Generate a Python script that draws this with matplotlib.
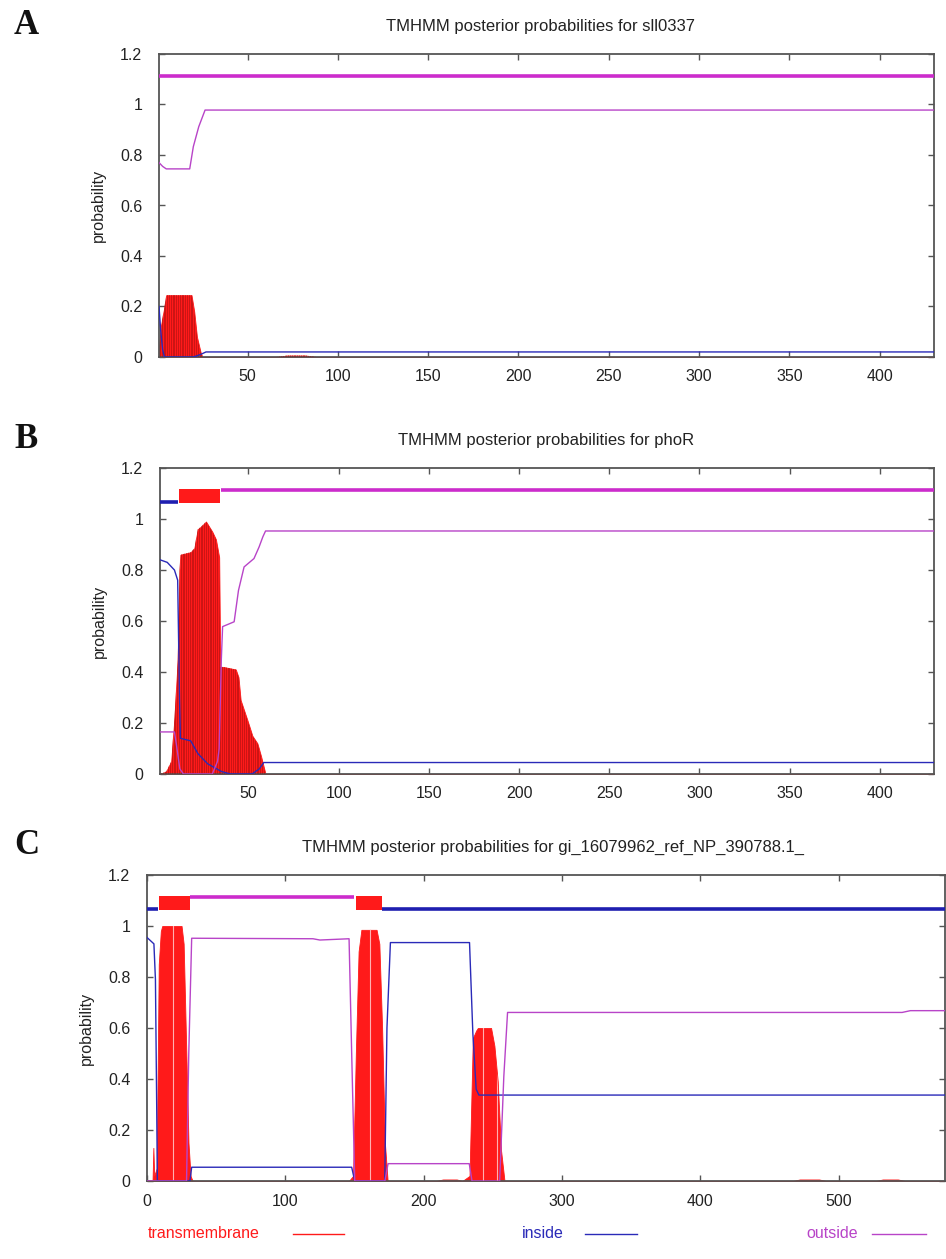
import numpy as np
import matplotlib
matplotlib.use("Agg")
import matplotlib.pyplot as plt

plt.rcParams['font.family'] = ['Liberation Sans', 'DejaVu Sans']

# ---------------- data ----------------
# Panel A: sll0337
A_title = "TMHMM posterior probabilities for sll0337"
A_xlim = (1, 430)
A_xticks = [50, 100, 150, 200, 250, 300, 350, 400]
A_tm_x = [1, 2, 4, 5, 19, 20.5, 22, 24, 25, 66, 72, 82, 88, 430]
A_tm_y = [0.04, 0.12, 0.2, 0.245, 0.245, 0.18, 0.08, 0.02, 0, 0, 0.006, 0.006, 0, 0]
A_in_x = [1, 2, 3, 4, 20, 24, 27, 430]
A_in_y = [0.2, 0.1, 0.03, 0.0, 0.0, 0.01, 0.02, 0.02]
A_out_x = [1, 3, 5, 18, 20, 23, 26.5, 430]
A_out_y = [0.77, 0.755, 0.745, 0.745, 0.833, 0.912, 0.978, 0.978]
A_thick_in = []
A_thick_tm = []
A_thick_out = [(1, 430)]

# Panel B: phoR
B_title = "TMHMM posterior probabilities for phoR"
B_xlim = (1, 430)
B_xticks = [50, 100, 150, 200, 250, 300, 350, 400]
B_tm_x = [1, 4.4, 7.2, 9, 10.8, 11.8, 12.3, 18, 20, 21.9, 23.7, 26.5, 30, 32, 33.8, 34.4,
          36, 43, 44.5, 45.7, 49.5, 52.2, 55, 57, 59.5, 430]
B_tm_y = [0, 0.01, 0.05, 0.22, 0.45, 0.8, 0.86, 0.87, 0.885, 0.96, 0.97, 0.99, 0.95, 0.92, 0.85, 0.42,
          0.42, 0.41, 0.38, 0.29, 0.21, 0.15, 0.12, 0.07, 0, 0]
B_in_x = [1, 5, 9, 10.8, 11.8, 12.3, 18, 22, 27.4, 35, 40, 52, 56, 58.5, 430]
B_in_y = [0.84, 0.83, 0.80, 0.76, 0.3, 0.14, 0.13, 0.08, 0.04, 0.01, 0.0, 0.0, 0.02, 0.045, 0.045]
B_out_x = [1, 9, 10, 12, 14, 30, 32.9, 33.8, 35, 35.7, 42.1, 44.5, 47.6, 53.1, 55.9, 58, 59.5, 430]
B_out_y = [0.165, 0.165, 0.12, 0.02, 0.0, 0.0, 0.05, 0.1, 0.45, 0.578, 0.597, 0.72, 0.812, 0.845, 0.89, 0.93, 0.953, 0.953]
B_thick_in = [(1, 11)]
B_thick_tm = [(11.8, 34.2)]
B_thick_out = [(35, 430)]

# Panel C: gi_16079962_ref_NP_390788.1_
C_title = "TMHMM posterior probabilities for gi_16079962_ref_NP_390788.1_"
C_xlim = (0, 577)
C_xticks = [0, 100, 200, 300, 400, 500]
C_tm_x = [0, 4, 4.6, 5.2, 7, 8.5, 10, 11, 25, 26.5, 28, 30, 31.5, 33,
          146, 149, 151, 153, 155, 166, 168, 170, 172, 174,
          209, 214, 224, 228, 233.2, 235.6, 238, 239.2, 248.8, 251.2, 253.6, 256, 258.5,
          467, 472, 486, 491, 527, 532, 543, 548, 577]
C_tm_y = [0, 0, 0.13, 0.02, 0.05, 0.85, 0.98, 1.0, 1.0, 0.93, 0.6, 0.15, 0.02, 0,
          0, 0.02, 0.5, 0.9, 0.985, 0.985, 0.93, 0.6, 0.15, 0,
          0, 0.006, 0.006, 0, 0.02, 0.56, 0.59, 0.6, 0.6, 0.53, 0.39, 0.12, 0,
          0, 0.006, 0.006, 0, 0, 0.006, 0.006, 0, 0]
C_in_x = [0, 5, 6.1, 7, 7.5, 31, 32.3, 148, 150.2, 171.9, 173.5, 176, 233.2, 235.6, 238, 240, 577]
C_in_y = [0.955, 0.93, 0.79, 0.3, 0.0, 0.0, 0.054, 0.054, 0.0, 0.0, 0.6, 0.935, 0.935, 0.58, 0.36, 0.337, 0.337]
C_out_x = [0, 28.6, 30.2, 32.3, 120, 125, 146.1, 148, 150.2, 172, 174.3, 233, 235, 255, 258, 260.7, 546, 552, 577]
C_out_y = [0.0, 0.0, 0.5, 0.952, 0.95, 0.945, 0.95, 0.5, 0.0, 0.0, 0.068, 0.068, 0.0, 0.0, 0.41, 0.661, 0.661, 0.668, 0.668]
C_thick_in = [(0, 8.2), (170, 577)]
C_thick_tm = [(8.9, 31), (151, 170)]
C_thick_out = [(31, 150)]
C_light = [19, 161, 243, 253]

y_ticks = [0, 0.2, 0.4, 0.6, 0.8, 1.0, 1.2]
y_ticklabels = ["0", "0.2", "0.4", "0.6", "0.8", "1", "1.2"]
thick_levels = {"in": 1.068, "out": 1.112, "tm": (1.064, 1.116)}

# ---------------- style ----------------
RED = "#ff1a1a"
STRIPE = "#a01010"
BLUE_THIN = "#2a2ab8"
BLUE_THICK = "#1f1fb0"
MAG_THIN = "#b844c8"
MAG_THICK = "#cc2ccc"
SPINE = "#555555"

W, H = 946, 1259
fig = plt.figure(figsize=(W / 100, H / 100), dpi=100)


def frac(l, t, r, b):
    return [l / W, 1 - b / H, (r - l) / W, (b - t) / H]


def panel(rect, title, title_xy, xlim, xticks, tm_x, tm_y, in_x, in_y, out_x, out_y,
          thick_in, thick_tm, thick_out, stripes=True, light=None):
    ax = fig.add_axes(rect)
    ax.set_xlim(*xlim)
    ax.set_ylim(0, 1.2)
    # transmembrane filled impulses
    poly = ax.fill_between(tm_x, 0, tm_y, color=RED, lw=0.6, edgecolor=RED, zorder=2)
    path = poly.get_paths()[0]
    n0, n1 = int(np.ceil(xlim[0])), int(np.floor(xlim[1]))
    if stripes:
        lc = ax.vlines(np.arange(n0, n1 + 1, 1.0) + 0.5, 0, 1.2, color=STRIPE, lw=0.45,
                       alpha=0.85, zorder=3)
        lc.set_clip_path(path, ax.transData)
    if light:
        lc2 = ax.vlines(light, 0, 1.2, color="#ffb0b0", lw=0.8, zorder=3)
        lc2.set_clip_path(path, ax.transData)
    ax.plot(in_x, in_y, color=BLUE_THIN, lw=1.0, zorder=4)
    ax.plot(out_x, out_y, color=MAG_THIN, lw=1.0, zorder=4)
    for a, b in thick_in:
        ax.plot([a, b], [thick_levels["in"]] * 2, color=BLUE_THICK, lw=2.6, solid_capstyle="butt", zorder=5)
    for a, b in thick_out:
        ax.plot([a, b], [thick_levels["out"]] * 2, color=MAG_THICK, lw=2.6, solid_capstyle="butt", zorder=5)
    for a, b in thick_tm:
        ax.fill_between([a, b], thick_levels["tm"][0], thick_levels["tm"][1], color=RED, lw=0, zorder=5)
    ax.set_xticks(xticks)
    ax.set_yticks(y_ticks)
    ax.set_yticklabels(y_ticklabels)
    ax.tick_params(direction="in", length=4, width=1, color=SPINE, top=True, right=True,
                   labelsize=11.5, labelcolor="#222222", pad=9)
    ax.tick_params(axis="y", pad=12)
    for s in ax.spines.values():
        s.set_color(SPINE)
        s.set_linewidth(1.3)
    ax.set_ylabel("probability", fontsize=11.5, color="#222222", labelpad=10)
    fig.text(title_xy[0] / W, 1 - title_xy[1] / H, title, fontsize=12, color="#222222",
             ha="center", va="center")
    return ax


axA = panel(frac(159, 54, 934, 357), A_title, (540, 26), A_xlim, A_xticks, A_tm_x, A_tm_y,
            A_in_x, A_in_y, A_out_x, A_out_y, A_thick_in, A_thick_tm, A_thick_out)
axB = panel(frac(160, 468, 934, 774), B_title, (546, 440), B_xlim, B_xticks, B_tm_x, B_tm_y,
            B_in_x, B_in_y, B_out_x, B_out_y, B_thick_in, B_thick_tm, B_thick_out)
axC = panel(frac(147, 875, 945, 1181), C_title, (553, 847), C_xlim, C_xticks, C_tm_x, C_tm_y,
            C_in_x, C_in_y, C_out_x, C_out_y, C_thick_in, C_thick_tm, C_thick_out,
            stripes=False, light=C_light)

# panel letters
for letter, y in [("A", 26), ("B", 440), ("C", 846)]:
    fig.text(14 / W, 1 - y / H, letter, fontsize=25, family="Liberation Serif",
             fontweight="bold", va="center", ha="left", color="#111111")

# legend
leg_y = 1 - 1234 / H
legend_items = [("transmembrane", RED, 148, 293, 344),
                ("inside", BLUE_THIN, 522, 585, 637),
                ("outside", MAG_THIN, 806, 872, 926)]
for label, col, tx, l0, l1 in legend_items:
    fig.text(tx / W, leg_y, label, color=col, fontsize=11.5, va="center", ha="left")
    fig.add_artist(plt.Line2D([l0 / W, l1 / W], [leg_y, leg_y], color=col, lw=1.0,
                              transform=fig.transFigure))

fig.savefig("out.png", dpi=100, facecolor="white")
